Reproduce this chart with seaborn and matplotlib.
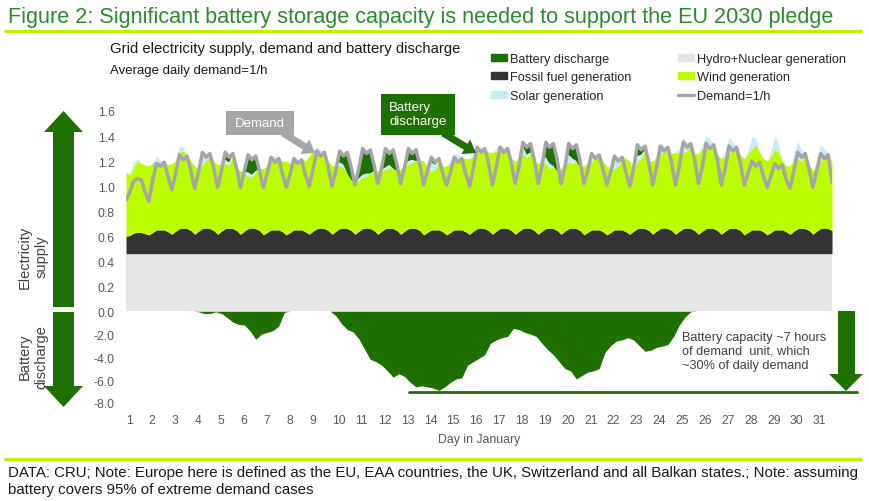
import numpy as np
import matplotlib
matplotlib.use("Agg")
import matplotlib.pyplot as plt
import seaborn as sns
from matplotlib.patches import Patch, Polygon, Rectangle, FancyArrow
from matplotlib.lines import Line2D

sns.set_theme(style="white")
plt.rcParams['font.family'] = ['Liberation Sans', 'DejaVu Sans']

# ---- data (6 samples per day: hours 2, 6, 10, 14, 18, 22) ----
days = list(range(1, 32))
sample_hours = [2, 6, 10, 14, 18, 22]
hydro_nuclear = 0.46

fossil = [
    [0.14, 0.145, 0.165, 0.17, 0.17, 0.16],
    [0.15, 0.17, 0.19, 0.19, 0.19, 0.175],
    [0.155, 0.18, 0.2, 0.205, 0.2, 0.185],
    [0.155, 0.18, 0.2, 0.205, 0.2, 0.185],
    [0.155, 0.18, 0.2, 0.205, 0.2, 0.185],
    [0.155, 0.18, 0.2, 0.205, 0.2, 0.185],
    [0.15, 0.17, 0.19, 0.19, 0.19, 0.175],
    [0.15, 0.17, 0.19, 0.19, 0.19, 0.175],
    [0.155, 0.18, 0.2, 0.205, 0.2, 0.185],
    [0.155, 0.18, 0.2, 0.205, 0.2, 0.185],
    [0.155, 0.18, 0.2, 0.205, 0.2, 0.185],
    [0.155, 0.18, 0.2, 0.205, 0.2, 0.185],
    [0.155, 0.18, 0.2, 0.205, 0.2, 0.185],
    [0.15, 0.17, 0.19, 0.19, 0.19, 0.175],
    [0.15, 0.17, 0.19, 0.19, 0.19, 0.175],
    [0.155, 0.18, 0.2, 0.205, 0.2, 0.185],
    [0.155, 0.18, 0.2, 0.205, 0.2, 0.185],
    [0.155, 0.18, 0.2, 0.205, 0.2, 0.185],
    [0.155, 0.18, 0.2, 0.205, 0.2, 0.185],
    [0.155, 0.18, 0.2, 0.205, 0.2, 0.185],
    [0.15, 0.17, 0.19, 0.19, 0.19, 0.175],
    [0.15, 0.17, 0.19, 0.19, 0.19, 0.175],
    [0.155, 0.18, 0.2, 0.205, 0.2, 0.185],
    [0.155, 0.18, 0.2, 0.205, 0.2, 0.185],
    [0.155, 0.18, 0.2, 0.205, 0.2, 0.185],
    [0.155, 0.18, 0.2, 0.205, 0.2, 0.185],
    [0.155, 0.18, 0.2, 0.205, 0.2, 0.185],
    [0.15, 0.17, 0.19, 0.19, 0.19, 0.175],
    [0.15, 0.17, 0.19, 0.19, 0.19, 0.175],
    [0.155, 0.18, 0.2, 0.205, 0.2, 0.185],
    [0.155, 0.18, 0.2, 0.205, 0.2, 0.185],
]

wind = [
    [0.51, 0.485, 0.525, 0.57, 0.55, 0.55],
    [0.55, 0.55, 0.55, 0.53, 0.55, 0.535],
    [0.565, 0.56, 0.61, 0.615, 0.59, 0.555],
    [0.545, 0.48, 0.51, 0.535, 0.59, 0.555],
    [0.555, 0.54, 0.52, 0.505, 0.59, 0.505],
    [0.505, 0.46, 0.42, 0.405, 0.46, 0.495],
    [0.53, 0.53, 0.55, 0.57, 0.58, 0.565],
    [0.59, 0.55, 0.55, 0.53, 0.57, 0.565],
    [0.625, 0.64, 0.62, 0.595, 0.61, 0.555],
    [0.545, 0.53, 0.5, 0.485, 0.44, 0.405],
    [0.405, 0.41, 0.41, 0.415, 0.44, 0.475],
    [0.505, 0.48, 0.47, 0.485, 0.48, 0.475],
    [0.525, 0.52, 0.51, 0.525, 0.54, 0.565],
    [0.59, 0.51, 0.47, 0.48, 0.56, 0.525],
    [0.55, 0.55, 0.55, 0.56, 0.58, 0.585],
    [0.605, 0.6, 0.61, 0.615, 0.64, 0.625],
    [0.655, 0.64, 0.62, 0.605, 0.64, 0.575],
    [0.585, 0.58, 0.6, 0.555, 0.61, 0.555],
    [0.565, 0.56, 0.52, 0.475, 0.5, 0.475],
    [0.525, 0.53, 0.53, 0.515, 0.54, 0.505],
    [0.55, 0.55, 0.55, 0.57, 0.61, 0.565],
    [0.55, 0.49, 0.49, 0.51, 0.59, 0.585],
    [0.585, 0.48, 0.54, 0.555, 0.63, 0.555],
    [0.585, 0.58, 0.6, 0.605, 0.65, 0.615],
    [0.655, 0.63, 0.61, 0.615, 0.68, 0.615],
    [0.645, 0.66, 0.64, 0.645, 0.67, 0.605],
    [0.605, 0.6, 0.61, 0.615, 0.66, 0.605],
    [0.61, 0.63, 0.65, 0.68, 0.62, 0.585],
    [0.59, 0.61, 0.65, 0.62, 0.55, 0.525],
    [0.545, 0.56, 0.56, 0.535, 0.61, 0.535],
    [0.505, 0.52, 0.54, 0.555, 0.6, 0.545],
]

solar = [
    [0, 0.01, 0.04, 0.02, 0, 0],
    [0, 0.01, 0.04, 0.02, 0, 0],
    [0, 0.01, 0.05, 0.03, 0, 0],
    [0, 0.02, 0.10, 0.06, 0, 0],
    [0, 0.01, 0.03, 0.02, 0, 0],
    [0, 0.01, 0.03, 0.02, 0, 0],
    [0, 0.01, 0.04, 0.02, 0, 0],
    [0, 0.01, 0.04, 0.03, 0, 0],
    [0, 0.01, 0.03, 0.03, 0, 0],
    [0, 0.01, 0.03, 0.02, 0, 0],
    [0, 0.01, 0.02, 0.02, 0, 0],
    [0, 0.01, 0.02, 0.02, 0, 0],
    [0, 0.01, 0.03, 0.02, 0, 0],
    [0, 0.02, 0.07, 0.04, 0, 0],
    [0, 0.02, 0.06, 0.04, 0, 0],
    [0, 0.02, 0.05, 0.03, 0, 0],
    [0, 0.02, 0.05, 0.04, 0, 0],
    [0, 0.02, 0.06, 0.03, 0, 0],
    [0, 0.02, 0.05, 0.04, 0, 0],
    [0, 0.02, 0.06, 0.04, 0, 0],
    [0, 0.02, 0.06, 0.04, 0, 0],
    [0, 0.03, 0.10, 0.06, 0, 0],
    [0, 0.02, 0.04, 0.03, 0, 0],
    [0, 0.02, 0.08, 0.05, 0, 0],
    [0, 0.03, 0.12, 0.07, 0, 0],
    [0, 0.03, 0.10, 0.07, 0, 0],
    [0, 0.04, 0.12, 0.07, 0, 0],
    [0, 0.03, 0.09, 0.06, 0, 0],
    [0, 0.04, 0.10, 0.06, 0, 0],
    [0, 0.05, 0.14, 0.09, 0, 0],
    [0, 0.05, 0.13, 0.08, 0, 0],
]

demand = [
    [0.89, 0.95, 1.04, 1.06, 1.05, 0.95],
    [0.88, 1.05, 1.18, 1.16, 1.19, 1.08],
    [0.97, 1.10, 1.25, 1.21, 1.24, 1.12],
    [0.98, 1.11, 1.27, 1.23, 1.26, 1.14],
    [0.99, 1.12, 1.27, 1.23, 1.26, 1.14],
    [0.99, 1.12, 1.25, 1.21, 1.24, 1.12],
    [0.99, 1.10, 1.23, 1.19, 1.22, 1.10],
    [0.99, 1.09, 1.22, 1.18, 1.21, 1.09],
    [1.00, 1.13, 1.28, 1.24, 1.27, 1.15],
    [1.00, 1.13, 1.28, 1.24, 1.27, 1.15],
    [1.01, 1.14, 1.30, 1.26, 1.29, 1.17],
    [1.02, 1.15, 1.30, 1.26, 1.29, 1.17],
    [1.02, 1.15, 1.30, 1.26, 1.29, 1.17],
    [1.01, 1.12, 1.23, 1.19, 1.22, 1.10],
    [1.01, 1.11, 1.23, 1.19, 1.22, 1.10],
    [1.00, 1.14, 1.31, 1.27, 1.30, 1.18],
    [1.01, 1.15, 1.31, 1.27, 1.30, 1.18],
    [1.02, 1.16, 1.35, 1.31, 1.34, 1.21],
    [1.02, 1.16, 1.35, 1.31, 1.34, 1.21],
    [1.02, 1.15, 1.34, 1.30, 1.33, 1.20],
    [1.02, 1.12, 1.26, 1.22, 1.25, 1.13],
    [1.01, 1.11, 1.24, 1.20, 1.23, 1.11],
    [1.00, 1.14, 1.33, 1.29, 1.32, 1.19],
    [1.01, 1.14, 1.32, 1.28, 1.31, 1.18],
    [1.01, 1.16, 1.35, 1.31, 1.34, 1.21],
    [1.02, 1.15, 1.34, 1.30, 1.33, 1.20],
    [1.01, 1.14, 1.32, 1.28, 1.31, 1.18],
    [1.01, 1.10, 1.20, 1.16, 1.19, 1.08],
    [0.99, 1.08, 1.18, 1.14, 1.17, 1.05],
    [0.98, 1.12, 1.27, 1.23, 1.26, 1.13],
    [0.99, 1.12, 1.26, 1.22, 1.25, 1.03],
]

# cumulative battery discharge, hours of demand, every 6 h
battery_level = [
    0, 0, 0, 0,   0, 0, 0, 0,   0, 0, 0, 0,
    0, -0.05, -0.2, -0.2,
    -0.05, -0.2, -0.55, -0.95,
    -1.15, -1.2, -1.7, -2.45,
    -2.0, -1.85, -1.7, -1.3,
    -0.1, 0, 0, 0,
    0, 0, 0, 0,
    0, -0.4, -1.1, -1.6,
    -1.8, -2.4, -3.3, -4.2,
    -4.4, -4.7, -5.2, -5.75,
    -5.45, -5.7, -6.2, -6.6,
    -6.5, -6.6, -6.7, -6.9,
    -6.6, -6.2, -5.9, -5.8,
    -4.7, -4.4, -4.1, -3.8,
    -2.8, -2.5, -2.3, -2.2,
    -1.5, -1.6, -1.85, -2.0,
    -2.2, -2.8, -3.35, -3.8,
    -4.4, -5.0, -5.2, -5.9,
    -5.6, -5.3, -5.2, -5.0,
    -3.6, -3.0, -2.6, -2.5,
    -2.3, -2.5, -3.0, -3.5,
    -3.4, -3.15, -3.05, -2.9,
    -2.2, -1.2, -0.5, -0.05,
    0, 0, 0, 0,   0, 0, 0, 0,   0, 0, 0, 0,
    0, 0, 0, 0,   0, 0, 0, 0,   0, 0, 0, 0,
]
battery_capacity = -7.0

# colours
C_HYDRO = '#e6e6e6'
C_FOSSIL = '#333333'
C_WIND = '#bdfc00'
C_SOLAR = '#c8ebfa'
C_BATT = '#1e7000'
C_DEMAND = '#a5a5a5'
C_TEXT = '#595959'

hours = np.array([24 * (d - 1) + h for d in days for h in sample_hours])
fos = np.array(fossil).ravel()
win = np.array(wind).ravel()
sol = np.array(solar).ravel()
dem = np.array(demand).ravel()
batt = np.array(battery_level)
batt_hours = np.arange(len(batt)) * 6

top_h = np.full(len(hours), hydro_nuclear)
top_f = top_h + fos
top_w = top_f + win
top_s = top_w + sol

fig = plt.figure(figsize=(8.69, 5.02), dpi=100)
ax = fig.add_axes([126 / 869, 1 - 404 / 502, 706 / 869, 292 / 502])
ax.set_facecolor('none')

# battery part of the axis is compressed
LOW = 0.0917
def fwd(y):
    y = np.asarray(y, dtype=float)
    return np.where(y < 0, y * LOW, y)
def inv(y):
    y = np.asarray(y, dtype=float)
    return np.where(y < 0, y / LOW, y)
ax.set_yscale('function', functions=(fwd, inv))

ax.fill_between(hours, 0, top_h, color=C_HYDRO, lw=0)
ax.fill_between(hours, top_h, top_f, color=C_FOSSIL, lw=0)
ax.fill_between(hours, top_f, top_w, color=C_WIND, lw=0)
ax.fill_between(hours, top_w, top_s, color=C_SOLAR, lw=0)
ax.fill_between(hours, top_s, dem, where=dem > top_s, interpolate=True,
                color=C_BATT, lw=0)
ax.fill_between(batt_hours, batt, 0, color=C_BATT, lw=0)
sns.lineplot(x=hours, y=dem, ax=ax, color=C_DEMAND, linewidth=2.5)
ax.axhline(battery_capacity, xmin=0.401, xmax=1.035, color=C_BATT,
           lw=2, clip_on=False)

ax.set_xlim(2, 742)
ax.set_ylim(-8, 1.6)
yt = [-8, -6, -4, -2, 0, 0.2, 0.4, 0.6, 0.8, 1.0, 1.2, 1.4, 1.6]
ax.set_yticks(yt)
ax.set_yticklabels([f"{v:.1f}" for v in yt])
ax.minorticks_off()
ax.set_xticks([24 * (d - 1) + 2 for d in days])
ax.set_xticklabels([str(d) for d in days], ha='left')
ax.tick_params(axis='both', length=0, labelsize=8.8, labelcolor=C_TEXT)
ax.tick_params(axis='y', pad=8)
ax.tick_params(axis='x', pad=8)
ax.set_xlabel("Day in January", fontsize=8.8, color=C_TEXT, labelpad=5)
ax.set_ylabel("")
ax.grid(False)
sns.despine(ax=ax, left=True, bottom=True)

# legend
handles = [
    Patch(color=C_BATT, label='Battery discharge'),
    Patch(color=C_FOSSIL, label='Fossil fuel generation'),
    Patch(color=C_SOLAR, label='Solar generation'),
    Patch(color=C_HYDRO, label='Hydro+Nuclear generation'),
    Patch(color=C_WIND, label='Wind generation'),
    Line2D([], [], color=C_DEMAND, lw=2.4, label='Demand=1/h'),
]
fig.legend(handles=handles, ncol=2, loc='upper left',
           bbox_to_anchor=(491 / 869, 1 - 54 / 502), frameon=False,
           fontsize=9.2, handlelength=1.25, handleheight=0.45,
           handletextpad=0.25, columnspacing=3.6, labelspacing=0.5,
           borderaxespad=0, borderpad=0)

# overlay in pixel units for the decorations
ov = fig.add_axes([0, 0, 1, 1])
ov.set_xlim(0, 869)
ov.set_ylim(502, 0)
ov.set_axis_off()

ov.text(8, 17, "Figure 2: Significant battery storage capacity is needed to support the EU 2030 pledge",
        fontsize=15.6, color='#2a8c2a', ha='left', va='center')
ov.plot([4, 862], [32, 32], color='#bff000', lw=2.4, solid_capstyle='butt')
ov.text(110, 49, "Grid electricity supply, demand and battery discharge",
        fontsize=10.7, color='#1a1a1a', ha='left', va='center')
ov.text(110, 71, "Average daily demand=1/h", fontsize=9.5, color='#1a1a1a',
        ha='left', va='center')

ov.plot([4, 862], [460, 460], color='#bff000', lw=2.4, solid_capstyle='butt')
ov.text(8, 473, "DATA: CRU; Note: Europe here is defined as the EU, EAA countries, the UK, "
        "Switzerland and all Balkan states.; Note: assuming",
        fontsize=10.8, color='#1a1a1a', ha='left', va='center')
ov.text(8, 490, "battery covers 95% of extreme demand cases",
        fontsize=10.8, color='#1a1a1a', ha='left', va='center')

# left arrows
ov.add_patch(Polygon([(53, 308), (53, 133), (44, 133), (63.5, 112), (83, 133),
                      (74, 133), (74, 308)], closed=True, fc=C_BATT, ec='none'))
ov.add_patch(Polygon([(53, 313), (74, 313), (74, 387), (83, 387), (63.5, 408),
                      (44, 387), (53, 387)], closed=True, fc=C_BATT, ec='none'))
ov.text(33, 257, "Electricity\nsupply", rotation=90, ha='center', va='center',
        fontsize=10.5, color='#404040', linespacing=1.2)
ov.text(33, 357, "Battery\ndischarge", rotation=90, ha='center', va='center',
        fontsize=10.5, color='#404040', linespacing=1.2)

# right arrow and capacity note
ov.add_patch(Polygon([(838, 312), (855, 312), (855, 375), (863, 375), (846, 392),
                      (829, 375), (838, 375)], closed=True, fc=C_BATT, ec='none'))
ov.text(682, 352, "Battery capacity ~7 hours\nof demand  unit, which\n~30% of daily demand",
        fontsize=9.2, color='#404040', ha='left', va='center', linespacing=1.25)

# callouts
ov.add_patch(Rectangle((226, 112), 68, 24, fc=C_DEMAND, ec='none'))
ov.text(260, 124, "Demand", fontsize=9.5, color='white', ha='center', va='center')
ov.add_patch(FancyArrow(283, 134, 32, 20, width=7, head_width=17, head_length=12,
                        length_includes_head=True, fc=C_DEMAND, ec='none'))
ov.add_patch(Rectangle((381, 95), 74, 41, fc=C_BATT, ec='none'))
ov.text(389, 115, "Battery\ndischarge", fontsize=9.5, color='white', ha='left',
        va='center', linespacing=1.2)
ov.add_patch(FancyArrow(443, 134, 33, 20, width=7, head_width=17, head_length=12,
                        length_includes_head=True, fc=C_BATT, ec='none'))

fig.savefig("out.png", dpi=100)
